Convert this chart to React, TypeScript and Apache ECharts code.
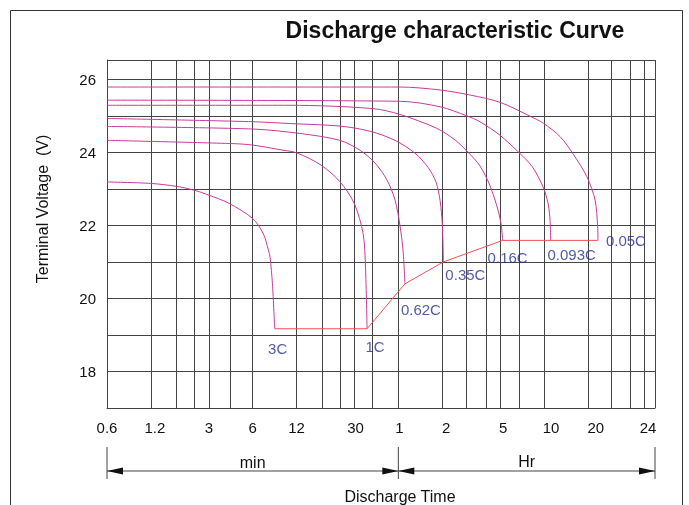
import React, { useEffect, useRef } from 'react';
import * as echarts from 'echarts';

// ---------- data (time in minutes, terminal voltage in V) ----------
const rateNames = ['3C', '1C', '0.62C', '0.35C', '0.16C', '0.093C', '0.05C'];

const curve3C = [[0.6, 23.19], [1.2, 23.15], [1.8, 23.07], [2.4, 22.96], [3, 22.83], [4.1, 22.61], [6, 22.19], [7.1, 21.77], [7.7, 21.32], [7.9, 21.13], [8.2, 20.4], [8.5, 19.17]];
const curve1C = [[0.6, 24.33], [4.4, 24.24], [6, 24.2], [9.7, 24.06], [12, 23.99], [17.7, 23.65], [23.8, 23.2], [29.9, 22.6], [34.4, 21.77], [35.7, 20.86], [36.6, 19.17]];
const curve062C = [[0.6, 24.71], [6, 24.64], [12.6, 24.52], [23.8, 24.33], [32.7, 24.06], [41.5, 23.71], [50.2, 23.24], [56.9, 22.7], [61.5, 22.01], [64.6, 21.33], [66.6, 20.4]];
const curve035C = [[0.6, 24.93], [6, 24.84], [10.8, 24.79], [23.9, 24.72], [38.3, 24.58], [56.9, 24.33], [78, 23.98], [96, 23.59], [109, 23.18], [116, 22.69], [120.4, 22.0], [122.3, 21.0]];
const curve016C = [[0.6, 25.29], [10.8, 25.29], [40.1, 25.2], [61.5, 25.04], [110, 24.66], [147, 24.34], [180, 24.01], [218, 23.63], [256, 23.08], [290, 22.42], [306, 21.98], [312, 21.59]];
const curve0093C = [[0.6, 25.43], [61.5, 25.4], [116, 25.25], [177, 25.0], [218, 24.84], [299, 24.47], [410, 23.97], [496, 23.62], [563, 23.24], [610, 22.91], [643, 22.56], [660, 22.14], [667, 21.59]];
const curve005C = [[0.6, 25.79], [61.5, 25.79], [116, 25.71], [187, 25.57], [300, 25.37], [482, 24.99], [593, 24.8], [775, 24.43], [953, 23.95], [1183, 23.33], [1226, 22.69], [1235, 21.96], [1236, 21.59]];
const curves = [curve3C, curve1C, curve062C, curve035C, curve016C, curve0093C, curve005C];

// x-axis grid lines (minutes) and tick labels
const gridTimes = [0.6, 1.2, 1.8, 2.4, 3, 4.2, 6, 12, 18, 24, 30, 40, 60, 120, 175, 240, 300, 405, 600, 1200, 1284, 1350, 1401, 1440];
const tickTimes = [0.6, 1.2, 3, 6, 12, 30, 60, 120, 300, 600, 1200, 1440];
const tickLabels = ['0.6', '1.2', '3', '6', '12', '30', '1', '2', '5', '10', '20', '24'];

// ---------- styles / layout ----------
const labelNudgePx = [0, 4, 0, 0, 0, 1, 1, 4, 3, 7, 8, -7];
const labelOffsets = [[3, 20], [8, 18], [16, 26], [22, 13], [5, 17], [21, 14], [28, 0]];
const GRID = { left: 107, right: 34, top: 60, bottom: 97 };
const W = 689, H = 505;
const FONT = "'Liberation Sans', Arial, Helvetica, sans-serif";
const CURVE_COLOR = '#c93a9d';
const END_COLOR = '#f24f55';
const LABEL_COLOR = '#28308f';
const GRID_COLOR = '#444444';

// the chart's time axis: logarithmic up to 20 hr, then a compressed stretch to 24 hr
const T0 = 0.6;
const T_LOG_END = 1200;
const T_END = 1440;
const U_LOG_END = Math.log10(T_LOG_END / T0);
const U_MAX = 3.762;
function toU(t: number) {
  if (t <= T_LOG_END) return Math.log10(t / T0);
  return U_LOG_END + ((t - T_LOG_END) / (T_END - T_LOG_END)) * (U_MAX - U_LOG_END);
}

export default function App() {
  const ref = useRef<HTMLDivElement>(null);
  useEffect(() => {
    const chart = echarts.init(ref.current!, null, { renderer: 'svg' });
    const pxPerU = (W - GRID.left - GRID.right) / U_MAX;
    const labelU = tickTimes.map((t, i) => toU(t) + labelNudgePx[i] / pxPerU);
    const endPoints = curves.map((c) => c[c.length - 1]);

    const curveSeries = curves.map((c, i) => ({
      name: rateNames[i],
      type: 'line',
      data: c.map(([t, v]) => [toU(t), v]),
      showSymbol: false,
      symbol: 'none',
      smooth: 0.3,
      lineStyle: { color: CURVE_COLOR, width: 1 },
      silent: true,
      z: 3,
    }));

    const option: any = {
      animation: false,
      grid: { ...GRID, containLabel: false },
      xAxis: {
        type: 'value',
        min: 0,
        max: U_MAX,
        axisLine: { show: true, lineStyle: { color: GRID_COLOR } },
        axisTick: { show: false, customValues: gridTimes.map(toU) },
        splitLine: { show: true, lineStyle: { color: GRID_COLOR, width: 1 } },
        axisLabel: {
          customValues: labelU,
          margin: 12,
          fontSize: 15,
          fontFamily: FONT,
          color: '#111',
          formatter: (v: number) => {
            const i = labelU.findIndex((u) => Math.abs(u - v) < 1e-6);
            return i >= 0 ? tickLabels[i] : '';
          },
        },
      },
      yAxis: {
        type: 'value',
        min: 17,
        max: 26.53,
        interval: 1,
        axisLine: { show: true, lineStyle: { color: GRID_COLOR } },
        axisTick: { show: false },
        splitLine: { show: true, lineStyle: { color: GRID_COLOR, width: 1 } },
        axisLabel: {
          margin: 11,
          fontSize: 15,
          fontFamily: FONT,
          color: '#111',
          showMaxLabel: false,
          formatter: (v: number) => (Number.isInteger(v) && v % 2 === 0 && v >= 18 ? String(v) : ''),
        },
      },
      series: [
        ...curveSeries,
        {
          name: 'end voltage',
          type: 'line',
          data: endPoints.map(([t, v]) => [toU(t), v]),
          showSymbol: false,
          symbol: 'none',
          lineStyle: { color: END_COLOR, width: 1 },
          silent: true,
          z: 4,
        },
        {
          name: 'rate labels',
          type: 'scatter',
          symbolSize: 1,
          itemStyle: { color: 'rgba(0,0,0,0)' },
          silent: true,
          z: 5,
          data: endPoints.map(([t, v], i) => ({
            name: rateNames[i],
            value: [toU(t), v],
            label: { offset: labelOffsets[i] },
          })),
          label: {
            show: true,
            position: 'inside',
            formatter: (p: any) => p.name,
            color: LABEL_COLOR,
            fontSize: 15,
            fontFamily: FONT,
          },
        },
      ],
    };
    chart.setOption(option);

    const px = (t: number) => chart.convertToPixel({ xAxisIndex: 0 }, toU(t)) as number;
    const x0 = px(T0), x1 = px(60), x2 = px(T_END);
    const ay = 471;
    const lineStyle = { stroke: '#444', lineWidth: 1 };
    const arrow = (tip: number, dir: number) => ({
      type: 'polygon',
      shape: { points: [[tip, ay], [tip - dir * 16, ay - 3.5], [tip - dir * 16, ay + 3.5]] },
      style: { fill: '#111' },
    });
    const text = (s: string, x: number, y: number, size: number, extra: any = {}) => ({
      type: 'text',
      x,
      y,
      ...extra,
      style: {
        text: s,
        fontSize: size,
        fontFamily: FONT,
        fill: '#111',
        align: 'center',
        verticalAlign: 'middle',
        ...(extra.style || {}),
      },
    });
    chart.setOption({
      graphic: [
        { type: 'rect', shape: { x: 10.5, y: 10.5, width: 672, height: 520 }, style: { fill: 'none', stroke: '#333', lineWidth: 1 } },
        text('Discharge characteristic Curve', 455, 30, 23, { style: { fontWeight: 'bold' } }),
        text('Terminal Voltage  (V)', 42, 209, 16, { rotation: Math.PI / 2 }),
        { type: 'line', shape: { x1: x0, y1: ay, x2: x2, y2: ay }, style: lineStyle },
        { type: 'line', shape: { x1: x0, y1: 447, x2: x0, y2: 479 }, style: lineStyle },
        { type: 'line', shape: { x1: x1, y1: 447, x2: x1, y2: 479 }, style: lineStyle },
        { type: 'line', shape: { x1: x2, y1: 447, x2: x2, y2: 479 }, style: lineStyle },
        arrow(x0, -1),
        arrow(x1, 1),
        arrow(x1, -1),
        arrow(x2, 1),
        text('min', (x0 + x1) / 2, 462, 16),
        text('Hr', (x1 + x2) / 2, 461, 16),
        text('Discharge Time', 400, 496, 16),
      ],
    });
    return () => chart.dispose();
  }, []);
  return <div ref={ref} style={{ position: 'fixed', left: 0, top: 0, width: W, height: H }} />;
}
